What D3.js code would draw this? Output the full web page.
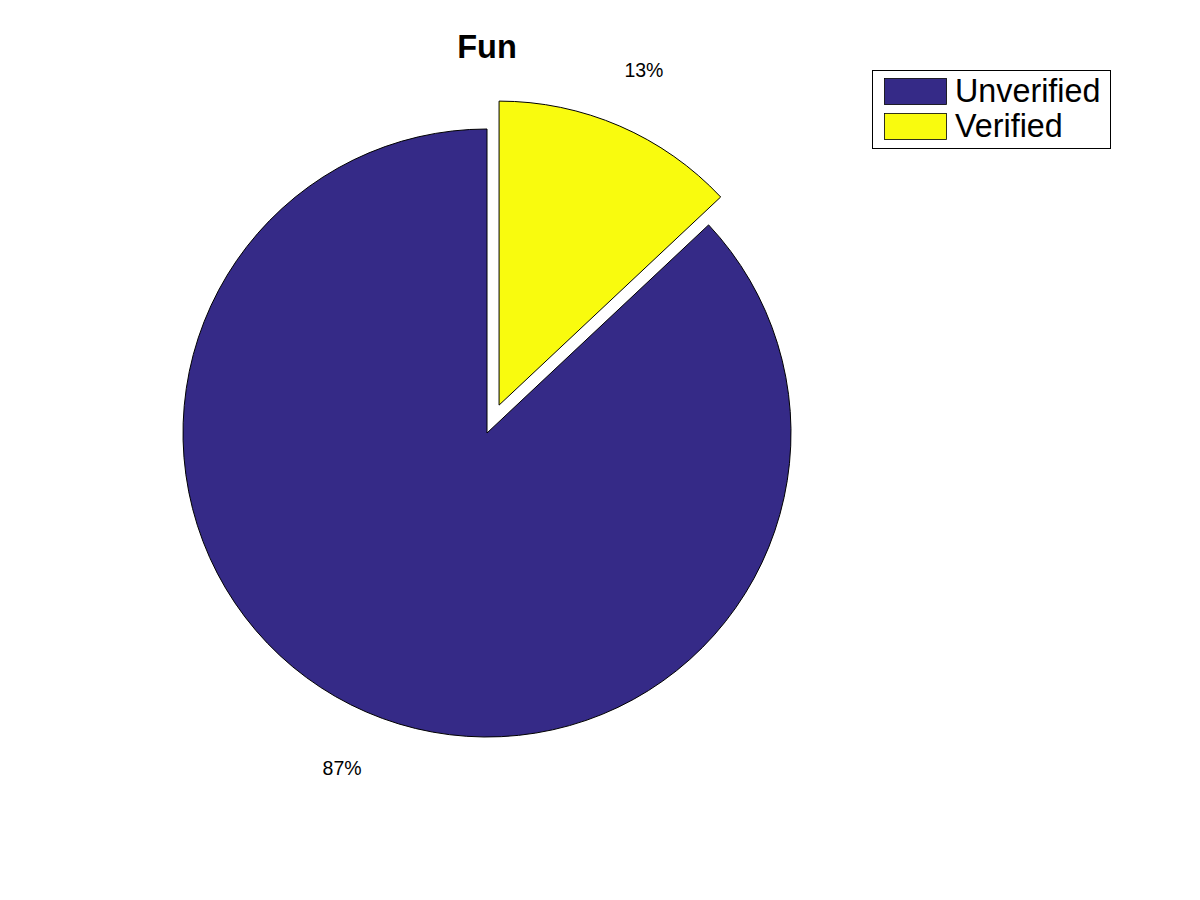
<!DOCTYPE html>
<html><head><meta charset="utf-8">
<script src="https://cdn.jsdelivr.net/npm/d3@7"></script>
<style>body{margin:0;background:#fff}svg{display:block;font-family:"Liberation Sans",Arial,sans-serif}</style>
</head><body><svg id="c" width="1200" height="900"></svg>
<script>
const categories = ["Unverified", "Verified"];
const values = [87, 13];
const labels = ["87%", "13%"];
const colors = ["#352a87", "#f9fb0e"];
const explode = [false, true];
const title = "Fun";

const svg = d3.select("#c");
const cx = 487, cy = 433, R = 304, offset = 0.1 * R, labelR = 1.2 * R;

const pie = d3.pie().sort(null).value(d => d.v);
const order = [1, 0];
const arcsData = pie(order.map(i => ({i, v: values[i]})));
const arc = d3.arc().innerRadius(0).outerRadius(R);

const g = svg.append("g").attr("transform", `translate(${cx},${cy})`);
arcsData.forEach(a => {
  const i = a.data.i;
  const mid = (a.startAngle + a.endAngle) / 2;
  const dx = explode[i] ? offset * Math.sin(mid) : 0;
  const dy = explode[i] ? -offset * Math.cos(mid) : 0;
  g.append("path").attr("d", arc(a))
    .attr("transform", `translate(${dx},${dy})`)
    .attr("fill", colors[i]).attr("stroke", "#000").attr("stroke-width", 1);
  g.append("text")
    .attr("x", dx + labelR * Math.sin(mid))
    .attr("y", dy - labelR * Math.cos(mid))
    .attr("text-anchor", "middle").attr("dominant-baseline", "central")
    .attr("font-size", 19.5).text(labels[i]);
});

svg.append("text").attr("x", 487).attr("y", 47).attr("text-anchor", "middle")
  .attr("dominant-baseline", "central").attr("font-size", 32.5).attr("font-weight", "bold").text(title);

const lg = svg.append("g");
lg.append("rect").attr("x", 872.5).attr("y", 70.5).attr("width", 238).attr("height", 78)
  .attr("fill", "#fff").attr("stroke", "#000").attr("stroke-width", 1);
categories.forEach((c, i) => {
  const y = 78 + i * 35;
  lg.append("rect").attr("x", 884.5).attr("y", y + 0.5).attr("width", 62).attr("height", 26)
    .attr("fill", colors[i]).attr("stroke", "#000").attr("stroke-width", 0.8);
  lg.append("text").attr("x", 955).attr("y", y + 13).attr("dominant-baseline", "central")
    .attr("font-size", 32.3).text(c);
});
</script></body></html>
